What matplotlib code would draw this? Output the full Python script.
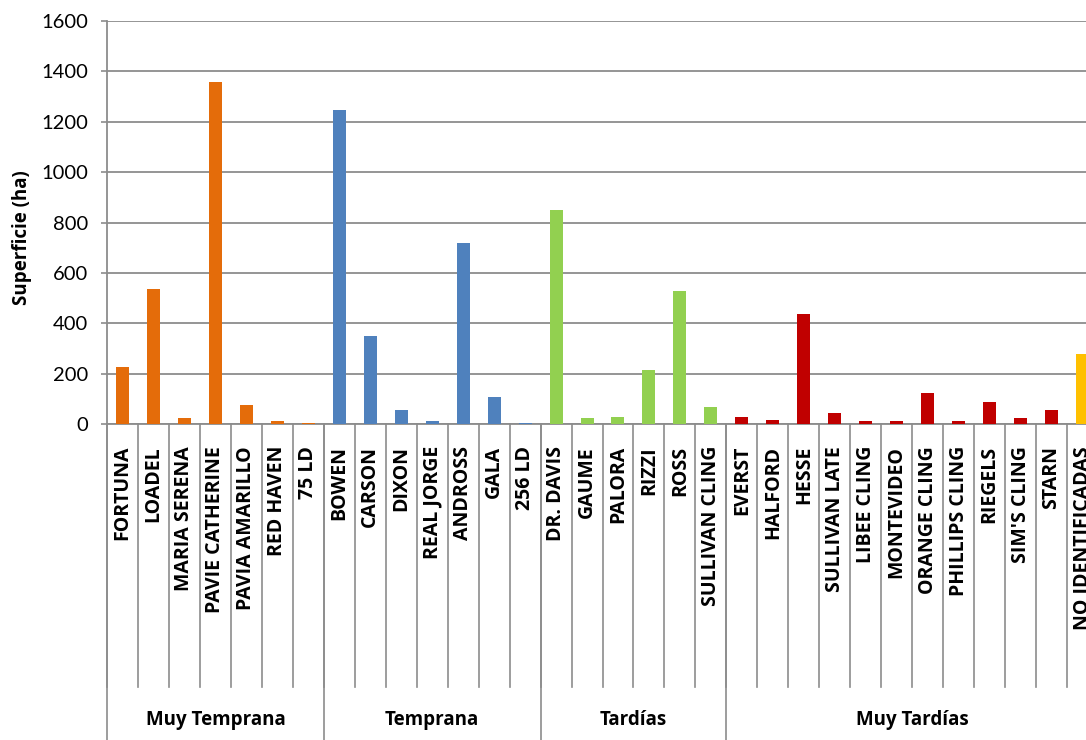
import matplotlib
matplotlib.use("Agg")
import matplotlib.pyplot as plt
import matplotlib.transforms as mtransforms

plt.rcParams['font.family'] = ['Lato', 'DejaVu Sans']
BOLD_FONT = ['Open Sans', 'DejaVu Sans']

groups = ["Muy Temprana", "Temprana", "Tardías", "Muy Tardías"]
group_sizes = [7, 7, 6, 12]

categories = ["FORTUNA", "LOADEL", "MARIA SERENA", "PAVIE CATHERINE", "PAVIA AMARILLO",
              "RED HAVEN", "75 LD",
              "BOWEN", "CARSON", "DIXON", "REAL JORGE", "ANDROSS", "GALA", "256 LD",
              "DR. DAVIS", "GAUME", "PALORA", "RIZZI", "ROSS", "SULLIVAN CLING",
              "EVERST", "HALFORD", "HESSE", "SULLIVAN LATE", "LIBEE CLING", "MONTEVIDEO",
              "ORANGE CLING", "PHILLIPS CLING", "RIEGELS", "SIM'S CLING", "STARN",
              "NO IDENTIFICADAS"]
values = [227, 535, 24, 1359, 75, 10, 3,
          1247, 351, 56, 10, 719, 107, 2,
          851, 24, 29, 214, 529, 69,
          29, 16, 437, 44, 10, 10, 123, 10, 88, 24, 56,
          279]
bar_colors_by_group = ["#E46C0A", "#4F81BD", "#92D050", "#C00000"]
special_color = "#FFC000"

colors = []
for g, n in enumerate(group_sizes):
    colors += [bar_colors_by_group[g]] * n
colors[-1] = special_color

W, H = 1086, 740
fig = plt.figure(figsize=(W / 100, H / 100), dpi=100)
n = len(categories)
left_px, right_px, top_px, zero_px = 107, 1098, 21, 424
ax = fig.add_axes([left_px / W, (H - zero_px) / H, (right_px - left_px) / W, (zero_px - top_px) / H])

x = list(range(n))
ax.bar(x, values, width=0.42, color=colors, zorder=3)
ax.set_xlim(-0.5, n - 0.5)
ax.set_ylim(0, 1600)
ax.set_yticks(range(0, 1601, 200))
ax.yaxis.grid(True, color="#8c8c8c", linewidth=1.3, zorder=0)
ax.set_axisbelow(True)
ax.set_xticks([])
ax.tick_params(axis='y', length=4.5, width=1.2, color="#8c8c8c", pad=9, labelsize=14.5, labelcolor="black")
for s in ["top", "right"]:
    ax.spines[s].set_visible(False)
for s in ["left", "bottom"]:
    ax.spines[s].set_color("#8c8c8c")
    ax.spines[s].set_linewidth(1.3)

fig.text(22 / W, 1 - 238 / H, "Superficie (ha)", rotation=90, ha="center", va="center",
         fontsize=13.5, fontweight="bold", family=BOLD_FONT)

trans = mtransforms.blended_transform_factory(ax.transData, ax.transAxes)
ax_h = zero_px - top_px
cat_bottom = -(687 - zero_px) / ax_h
grp_bottom = -(745 - zero_px) / ax_h
label_top = -(446 - zero_px) / ax_h
grp_label_y = -(720 - zero_px) / ax_h

# category separators
for i in range(n + 1):
    ax.plot([i - 0.5, i - 0.5], [0, cat_bottom], transform=trans, color="#8c8c8c",
            lw=1.2, clip_on=False)
# group separators and labels
start = 0
for g, size in zip(groups, group_sizes):
    ax.plot([start - 0.5, start - 0.5], [0, grp_bottom], transform=trans, color="#8c8c8c",
            lw=1.2, clip_on=False)
    ax.text(start + (size - 1) / 2, grp_label_y, g, transform=trans, ha="center", va="center",
            fontsize=13.5, fontweight="bold", family=BOLD_FONT)
    start += size
ax.plot([start - 0.5, start - 0.5], [0, grp_bottom], transform=trans, color="#8c8c8c",
        lw=1.2, clip_on=False)

for i, c in enumerate(categories):
    ax.text(i, label_top, c, transform=trans, rotation=90, ha="center", va="top",
            fontsize=14, fontweight="bold", family=BOLD_FONT)

fig.savefig("out.png", dpi=100)
